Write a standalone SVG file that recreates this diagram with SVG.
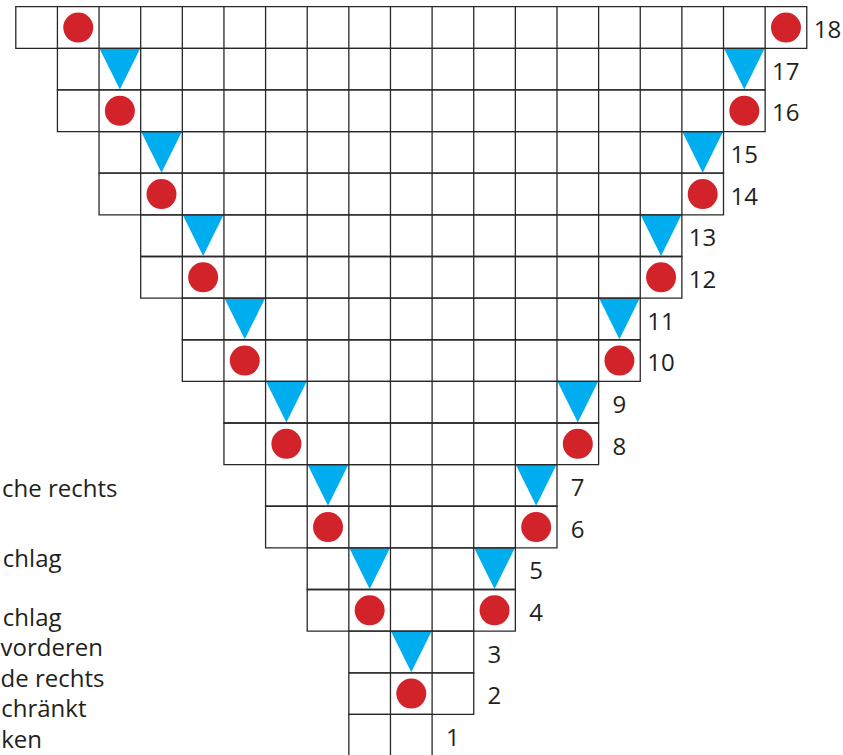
<svg xmlns="http://www.w3.org/2000/svg" xmlns:xlink="http://www.w3.org/1999/xlink" width="843" height="755" viewBox="0 0 843 755">
<style>
.grid{fill:none;stroke:#2a2728;stroke-width:1.3}
.tri{fill:#00AEEF}
.dot{fill:#D2232A}
.num{font-family:"Open Sans","Noto Sans","DejaVu Sans",sans-serif;font-size:24px;fill:#231F20;text-anchor:middle}
.leg{font-family:"Open Sans","Noto Sans","DejaVu Sans",sans-serif;font-size:24px;fill:#231F20;text-anchor:end}
</style>
<defs>
<path id="t" d="M0.6 0.4 H41 L20.8 41.2 Z"/>
<circle id="d" r="15"/>
</defs>
<rect width="843" height="755" fill="#fff"/>
<g id="markers">
<g id="triangles" class="tri">
<use xlink:href="#t" x="99.06" y="48.33"/><use xlink:href="#t" x="723.51" y="48.33"/>
<use xlink:href="#t" x="140.69" y="131.59"/><use xlink:href="#t" x="681.88" y="131.59"/>
<use xlink:href="#t" x="182.32" y="214.85"/><use xlink:href="#t" x="640.25" y="214.85"/>
<use xlink:href="#t" x="223.95" y="298.11"/><use xlink:href="#t" x="598.62" y="298.11"/>
<use xlink:href="#t" x="265.58" y="381.37"/><use xlink:href="#t" x="556.99" y="381.37"/>
<use xlink:href="#t" x="307.21" y="464.63"/><use xlink:href="#t" x="515.36" y="464.63"/>
<use xlink:href="#t" x="348.84" y="547.89"/><use xlink:href="#t" x="473.73" y="547.89"/>
<use xlink:href="#t" x="390.47" y="631.15"/>
</g>
<g id="dots" class="dot">
<use xlink:href="#d" x="78.25" y="27.52"/><use xlink:href="#d" x="785.96" y="27.52"/>
<use xlink:href="#d" x="119.88" y="110.78"/><use xlink:href="#d" x="744.33" y="110.78"/>
<use xlink:href="#d" x="161.5" y="194.04"/><use xlink:href="#d" x="702.7" y="194.04"/>
<use xlink:href="#d" x="203.14" y="277.3"/><use xlink:href="#d" x="661.07" y="277.3"/>
<use xlink:href="#d" x="244.77" y="360.56"/><use xlink:href="#d" x="619.44" y="360.56"/>
<use xlink:href="#d" x="286.4" y="443.82"/><use xlink:href="#d" x="577.81" y="443.82"/>
<use xlink:href="#d" x="328.03" y="527.08"/><use xlink:href="#d" x="536.18" y="527.08"/>
<use xlink:href="#d" x="369.66" y="610.34"/><use xlink:href="#d" x="494.55" y="610.34"/>
<use xlink:href="#d" x="411.29" y="693.6"/>
</g>
</g>
<g id="grid" class="grid">
<path id="row18" d="M15.8 6.7h790.97v41.63h-790.97z M57.43 6.7v41.63m41.63 -41.63v41.63m41.63 -41.63v41.63m41.63 -41.63v41.63m41.63 -41.63v41.63m41.63 -41.63v41.63m41.63 -41.63v41.63m41.63 -41.63v41.63m41.63 -41.63v41.63m41.63 -41.63v41.63m41.63 -41.63v41.63m41.63 -41.63v41.63m41.63 -41.63v41.63m41.63 -41.63v41.63m41.63 -41.63v41.63m41.63 -41.63v41.63m41.63 -41.63v41.63m41.63 -41.63v41.63"/>
<path id="row17" d="M57.43 48.33h707.71v41.63h-707.71z M99.06 48.33v41.63m41.63 -41.63v41.63m41.63 -41.63v41.63m41.63 -41.63v41.63m41.63 -41.63v41.63m41.63 -41.63v41.63m41.63 -41.63v41.63m41.63 -41.63v41.63m41.63 -41.63v41.63m41.63 -41.63v41.63m41.63 -41.63v41.63m41.63 -41.63v41.63m41.63 -41.63v41.63m41.63 -41.63v41.63m41.63 -41.63v41.63m41.63 -41.63v41.63"/>
<path id="row16" d="M57.43 89.96h707.71v41.63h-707.71z M99.06 89.96v41.63m41.63 -41.63v41.63m41.63 -41.63v41.63m41.63 -41.63v41.63m41.63 -41.63v41.63m41.63 -41.63v41.63m41.63 -41.63v41.63m41.63 -41.63v41.63m41.63 -41.63v41.63m41.63 -41.63v41.63m41.63 -41.63v41.63m41.63 -41.63v41.63m41.63 -41.63v41.63m41.63 -41.63v41.63m41.63 -41.63v41.63m41.63 -41.63v41.63"/>
<path id="row15" d="M99.06 131.59h624.45v41.63h-624.45z M140.69 131.59v41.63m41.63 -41.63v41.63m41.63 -41.63v41.63m41.63 -41.63v41.63m41.63 -41.63v41.63m41.63 -41.63v41.63m41.63 -41.63v41.63m41.63 -41.63v41.63m41.63 -41.63v41.63m41.63 -41.63v41.63m41.63 -41.63v41.63m41.63 -41.63v41.63m41.63 -41.63v41.63m41.63 -41.63v41.63"/>
<path id="row14" d="M99.06 173.22h624.45v41.63h-624.45z M140.69 173.22v41.63m41.63 -41.63v41.63m41.63 -41.63v41.63m41.63 -41.63v41.63m41.63 -41.63v41.63m41.63 -41.63v41.63m41.63 -41.63v41.63m41.63 -41.63v41.63m41.63 -41.63v41.63m41.63 -41.63v41.63m41.63 -41.63v41.63m41.63 -41.63v41.63m41.63 -41.63v41.63m41.63 -41.63v41.63"/>
<path id="row13" d="M140.69 214.85h541.19v41.63h-541.19z M182.32 214.85v41.63m41.63 -41.63v41.63m41.63 -41.63v41.63m41.63 -41.63v41.63m41.63 -41.63v41.63m41.63 -41.63v41.63m41.63 -41.63v41.63m41.63 -41.63v41.63m41.63 -41.63v41.63m41.63 -41.63v41.63m41.63 -41.63v41.63m41.63 -41.63v41.63"/>
<path id="row12" d="M140.69 256.48h541.19v41.63h-541.19z M182.32 256.48v41.63m41.63 -41.63v41.63m41.63 -41.63v41.63m41.63 -41.63v41.63m41.63 -41.63v41.63m41.63 -41.63v41.63m41.63 -41.63v41.63m41.63 -41.63v41.63m41.63 -41.63v41.63m41.63 -41.63v41.63m41.63 -41.63v41.63m41.63 -41.63v41.63"/>
<path id="row11" d="M182.32 298.11h457.93v41.63h-457.93z M223.95 298.11v41.63m41.63 -41.63v41.63m41.63 -41.63v41.63m41.63 -41.63v41.63m41.63 -41.63v41.63m41.63 -41.63v41.63m41.63 -41.63v41.63m41.63 -41.63v41.63m41.63 -41.63v41.63m41.63 -41.63v41.63"/>
<path id="row10" d="M182.32 339.74h457.93v41.63h-457.93z M223.95 339.74v41.63m41.63 -41.63v41.63m41.63 -41.63v41.63m41.63 -41.63v41.63m41.63 -41.63v41.63m41.63 -41.63v41.63m41.63 -41.63v41.63m41.63 -41.63v41.63m41.63 -41.63v41.63m41.63 -41.63v41.63"/>
<path id="row9" d="M223.95 381.37h374.67v41.63h-374.67z M265.58 381.37v41.63m41.63 -41.63v41.63m41.63 -41.63v41.63m41.63 -41.63v41.63m41.63 -41.63v41.63m41.63 -41.63v41.63m41.63 -41.63v41.63m41.63 -41.63v41.63"/>
<path id="row8" d="M223.95 423h374.67v41.63h-374.67z M265.58 423v41.63m41.63 -41.63v41.63m41.63 -41.63v41.63m41.63 -41.63v41.63m41.63 -41.63v41.63m41.63 -41.63v41.63m41.63 -41.63v41.63m41.63 -41.63v41.63"/>
<path id="row7" d="M265.58 464.63h291.41v41.63h-291.41z M307.21 464.63v41.63m41.63 -41.63v41.63m41.63 -41.63v41.63m41.63 -41.63v41.63m41.63 -41.63v41.63m41.63 -41.63v41.63"/>
<path id="row6" d="M265.58 506.26h291.41v41.63h-291.41z M307.21 506.26v41.63m41.63 -41.63v41.63m41.63 -41.63v41.63m41.63 -41.63v41.63m41.63 -41.63v41.63m41.63 -41.63v41.63"/>
<path id="row5" d="M307.21 547.89h208.15v41.63h-208.15z M348.84 547.89v41.63m41.63 -41.63v41.63m41.63 -41.63v41.63m41.63 -41.63v41.63"/>
<path id="row4" d="M307.21 589.52h208.15v41.63h-208.15z M348.84 589.52v41.63m41.63 -41.63v41.63m41.63 -41.63v41.63m41.63 -41.63v41.63"/>
<path id="row3" d="M348.84 631.15h124.89v41.63h-124.89z M390.47 631.15v41.63m41.63 -41.63v41.63"/>
<path id="row2" d="M348.84 672.78h124.89v41.63h-124.89z M390.47 672.78v41.63m41.63 -41.63v41.63"/>
<path id="row1" d="M348.84 714.41h83.26v41.63h-83.26z M390.47 714.41v41.63"/>
</g>
<g id="row-numbers" class="num">
<text x="827.5" y="38.2">18</text>
<text x="785.8" y="79.83">17</text>
<text x="785.8" y="121.46">16</text>
<text x="744.2" y="163.09">15</text>
<text x="744.2" y="204.72">14</text>
<text x="702.6" y="246.35">13</text>
<text x="702.6" y="287.98">12</text>
<text x="661" y="329.61">11</text>
<text x="661" y="371.24">10</text>
<text x="619.3" y="412.87">9</text>
<text x="619.3" y="454.5">8</text>
<text x="577.7" y="496.13">7</text>
<text x="577.7" y="537.76">6</text>
<text x="536.1" y="579.39">5</text>
<text x="536.1" y="621.02">4</text>
<text x="494.4" y="662.65">3</text>
<text x="494.4" y="704.28">2</text>
<text x="452.8" y="745.91">1</text>
</g>
<g id="legend" class="leg">
<text x="117.5" y="496.5">che rechts</text>
<text x="61.5" y="567">chlag</text>
<text x="61.5" y="625.5">chlag</text>
<text x="103" y="656">vorderen</text>
<text x="104.5" y="686.5">de rechts</text>
<text x="86.5" y="717">chränkt</text>
<text x="42" y="747.5">ken</text>
</g>
</svg>
